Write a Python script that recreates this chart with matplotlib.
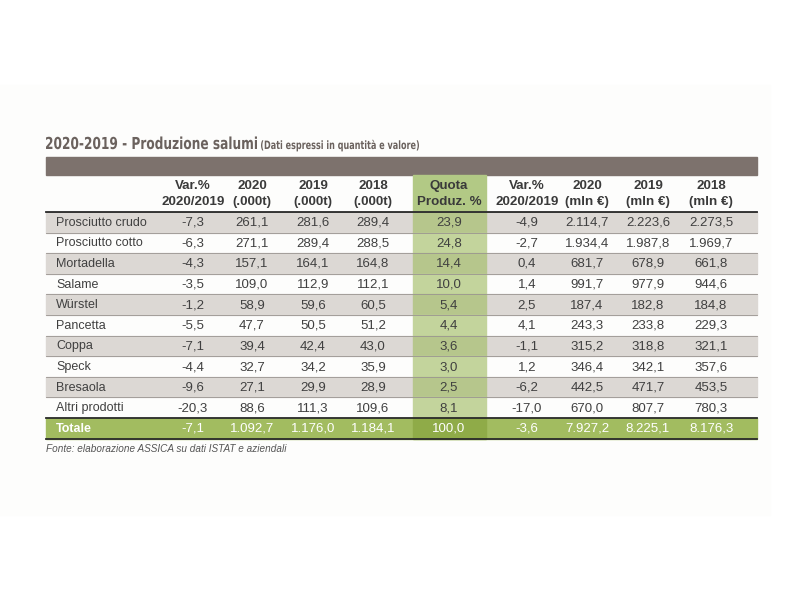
import matplotlib.pyplot as plt
from matplotlib.patches import Rectangle, PathPatch
from matplotlib.textpath import TextPath
from matplotlib.font_manager import FontProperties
from matplotlib.transforms import Affine2D

# table data
prodotti = ['Prosciutto crudo', 'Prosciutto cotto', 'Mortadella', 'Salame', 'Würstel',
            'Pancetta', 'Coppa', 'Speck', 'Bresaola', 'Altri prodotti']
var_q = ['-7,3', '-6,3', '-4,3', '-3,5', '-1,2', '-5,5', '-7,1', '-4,4', '-9,6', '-20,3']
q2020 = ['261,1', '271,1', '157,1', '109,0', '58,9', '47,7', '39,4', '32,7', '27,1', '88,6']
q2019 = ['281,6', '289,4', '164,1', '112,9', '59,6', '50,5', '42,4', '34,2', '29,9', '111,3']
q2018 = ['289,4', '288,5', '164,8', '112,1', '60,5', '51,2', '43,0', '35,9', '28,9', '109,6']
quota = ['23,9', '24,8', '14,4', '10,0', '5,4', '4,4', '3,6', '3,0', '2,5', '8,1']
var_v = ['-4,9', '-2,7', '0,4', '1,4', '2,5', '4,1', '-1,1', '1,2', '-6,2', '-17,0']
v2020 = ['2.114,7', '1.934,4', '681,7', '991,7', '187,4', '243,3', '315,2', '346,4', '442,5', '670,0']
v2019 = ['2.223,6', '1.987,8', '678,9', '977,9', '182,8', '233,8', '318,8', '342,1', '471,7', '807,7']
v2018 = ['2.273,5', '1.969,7', '661,8', '944,6', '184,8', '229,3', '321,1', '357,6', '453,5', '780,3']
totale = ['Totale', '-7,1', '1.092,7', '1.176,0', '1.184,1', '100,0', '-3,6', '7.927,2', '8.225,1', '8.176,3']

headers = [('Var.%', '2020/2019'), ('2020', '(.000t)'), ('2019', '(.000t)'), ('2018', '(.000t)'),
           ('Quota', 'Produz. %'), ('Var.%', '2020/2019'), ('2020', '(mln €)'),
           ('2019', '(mln €)'), ('2018', '(mln €)')]

title = '2020-2019 - Produzione salumi'
subtitle = '(Dati espressi in quantità e valore)'
fonte = 'Fonte: elaborazione ASSICA su dati ISTAT e aziendali'

# layout (pixels)
x0, x1 = 46, 757
col_x = [193, 252, 313, 373, 449, 527, 587, 648, 711]
q_left, q_right = 413, 486
row_top = 212
row_h = 20.6

plt.rcParams['font.family'] = ['Liberation Sans', 'DejaVu Sans']
fig = plt.figure(figsize=(8, 6), dpi=100)
ax = fig.add_axes([0, 0, 1, 1])
ax.set_xlim(0, 800)
ax.set_ylim(600, 0)
ax.axis('off')

# faint panel background
ax.add_patch(Rectangle((0, 85), 770, 430, color='#fdfdfc', zorder=0))


def condensed_text(x, y, s, size, width, color):
    # draw text squeezed horizontally to a given pixel width (no narrow font installed)
    tp = TextPath((0, 0), s, size=size, prop=FontProperties(family='DejaVu Sans', weight='bold'))
    ext = tp.get_extents()
    sx = width / ext.width
    tr = Affine2D().translate(-ext.x0, 0).scale(sx, -1).translate(x, y) + ax.transData
    ax.add_patch(PathPatch(tp, transform=tr, color=color, lw=0, zorder=3))


condensed_text(x0, 149, title, 16.5, 211, '#6b625e')
condensed_text(261, 149, subtitle, 11.5, 158, '#6b625e')

# brown band
ax.add_patch(Rectangle((x0, 157), x1 - x0, 18, color='#7d726d', zorder=1))

# header quota cell
ax.add_patch(Rectangle((q_left, 175), q_right - q_left, row_top - 175, color='#b2c985', zorder=1))
for i, (a, b) in enumerate(headers):
    ax.text(col_x[i], 186, a, ha='center', va='center', fontsize=9.6, fontweight='bold', color='#3a3a3a', zorder=3)
    ax.text(col_x[i], 202, b, ha='center', va='center', fontsize=9.6, fontweight='bold', color='#3a3a3a', zorder=3)

# data rows
for r, name in enumerate(prodotti):
    y = row_top + r * row_h
    shaded = r % 2 == 0
    if shaded:
        ax.add_patch(Rectangle((x0, y), x1 - x0, row_h, color='#dcd8d4', zorder=1))
    ax.add_patch(Rectangle((q_left, y), q_right - q_left, row_h,
                           color='#b6c68c' if shaded else '#c3d49c', zorder=1.5))
    ax.plot([x0, x1], [y, y], color='#9a9490', lw=0.6, zorder=2)
    yc = y + row_h / 2 + 0.5
    ax.text(56, yc, name, ha='left', va='center', fontsize=9, color='#404040', zorder=3)
    vals = [var_q[r], q2020[r], q2019[r], q2018[r], quota[r], var_v[r], v2020[r], v2019[r], v2018[r]]
    for i, v in enumerate(vals):
        ax.text(col_x[i], yc, v, ha='center', va='center', fontsize=9.5, color='#404040', zorder=3)

# totale row
yt = row_top + len(prodotti) * row_h
ax.add_patch(Rectangle((x0, yt), x1 - x0, row_h, color='#a2bc60', zorder=1))
ax.add_patch(Rectangle((q_left, yt), q_right - q_left, row_h, color='#8fab48', zorder=1.5))
ax.text(56, yt + row_h / 2 + 0.5, totale[0], ha='left', va='center', fontsize=9,
        fontweight='bold', color='white', zorder=3)
for i, v in enumerate(totale[1:]):
    ax.text(col_x[i], yt + row_h / 2 + 0.5, v, ha='center', va='center', fontsize=9.5,
            color='white', zorder=3)

# dark rules
for y in (row_top, yt, yt + row_h):
    ax.plot([x0, x1], [y, y], color='#2a2a2a', lw=1.3, zorder=2.5)

ax.text(x0, 449, fonte, ha='left', va='center', fontsize=7.2, style='italic', color='#555555')

fig.savefig('out.png', dpi=100)
